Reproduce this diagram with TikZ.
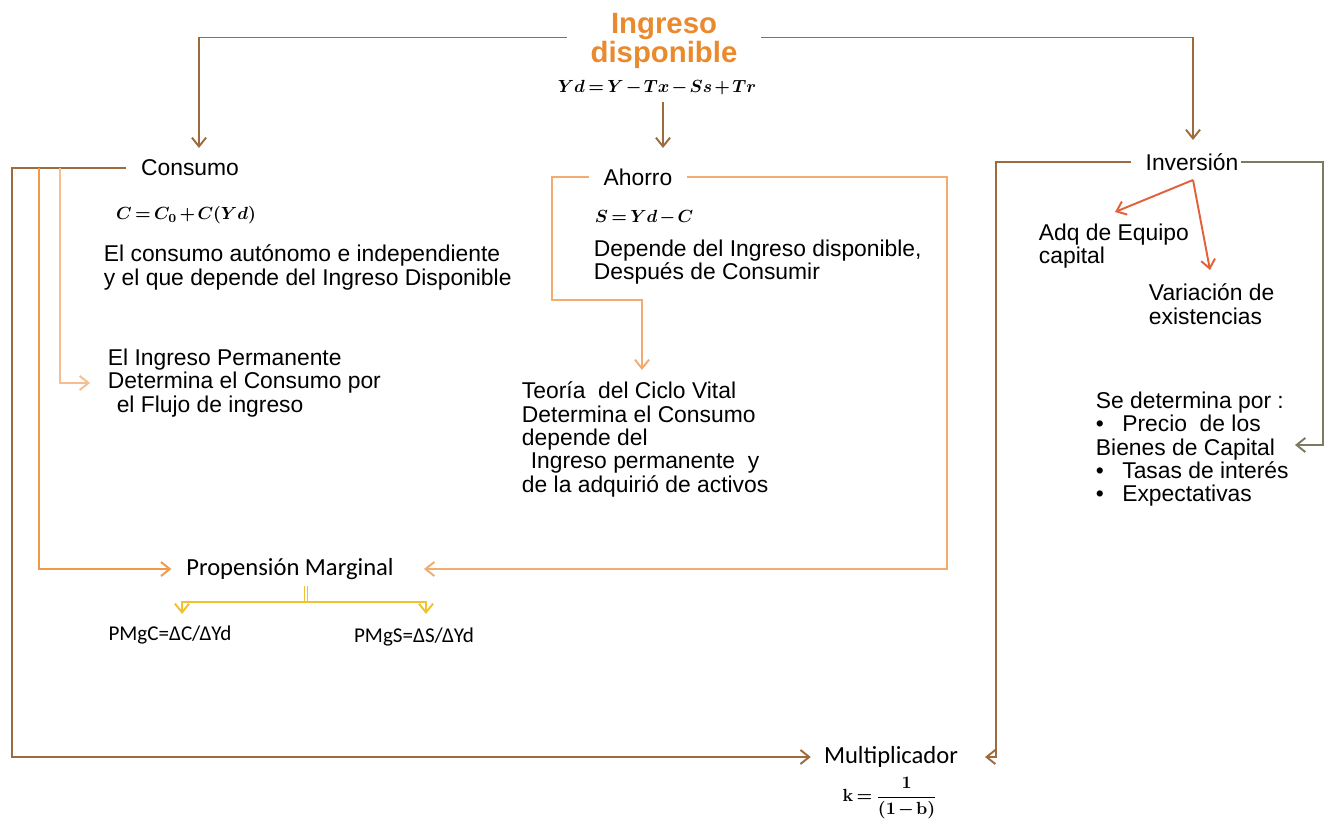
\documentclass[tikz,border=0pt]{standalone}
\usepackage[no-math]{fontspec}
\setmainfont{Liberation Sans}
\newfontfamily\calibfont{Carlito}
\usepackage{amsmath}
\usepackage{bm}
\usetikzlibrary{positioning, arrows.meta, calc}

\definecolor{titleor}{HTML}{E98A2E}
\definecolor{lnbrown}{HTML}{9E6B3E}
\definecolor{lnorange}{HTML}{EF9A4A}
\definecolor{lnlight}{HTML}{F6BE90}
\definecolor{lnahorro}{HTML}{F2AC70}
\definecolor{lnolive}{HTML}{7E7A62}
\definecolor{lnred}{HTML}{E2603A}
\definecolor{lnyellow}{HTML}{F2C22E}

% tighter spacing for the formulas
\newcommand{\tightmath}{\thickmuskip=3mu\medmuskip=2mu}

\begin{document}
\begin{tikzpicture}[x=0.02cm, y=-0.02cm, line width=1.1pt,
  arr/.style={-{Straight Barb[length=5pt,width=8pt]}},
  brownln/.style={draw=lnbrown},
  orangeln/.style={draw=lnorange},
  lightln/.style={draw=lnlight},
  ahorroln/.style={draw=lnahorro},
  oliveln/.style={draw=lnolive},
  redln/.style={draw=lnred},
  yellowln/.style={draw=lnyellow},
  head/.style={font=\fontsize{13}{15}\selectfont, inner xsep=8pt},
  txt/.style={font=\fontsize{13}{13.3}\selectfont, align=left, anchor=north west, inner sep=0pt},
  calib/.style={font=\calibfont\fontsize{14}{16}\selectfont},
  formula/.style={font=\fontsize{9.6}{12}\selectfont\boldmath\tightmath}]

\fill[white] (0,0) rectangle (1328,820);
\useasboundingbox (0,0) rectangle (1328,820);

% --- Ingreso disponible ---
\node[font=\bfseries\fontsize{16.7}{16.8}\selectfont, text=titleor, align=center, inner xsep=13pt] (ingreso) at (664,41) {Ingreso\\disponible};
\node[formula] (ydf) at (657,88) {$Yd = Y - Tx - Ss + Tr$};

% --- Consumo ---
\node[head] (consumo) at (190,168) {Consumo};
\node[formula] (cf) at (186,215) {$C = C_0 + C(Yd)$};
\node[txt] (ctxt) at (103,244) {El consumo autónomo e independiente\\y el que depende del Ingreso Disponible};
\node[txt] (perm) at (107,348) {El Ingreso Permanente\\Determina el Consumo por\\\hspace*{5pt}el Flujo de ingreso};

% --- Ahorro ---
\node[head] (ahorro) at (638,177) {Ahorro};
\node[formula] (sf) at (644,218) {$S = Yd - C$};
\node[txt] (atxt) at (593,239) {Depende del Ingreso disponible,\\Después de Consumir};
\node[txt] (ciclo) at (521,381) {Teoría\ \ del Ciclo Vital\\Determina el Consumo\\depende del\\\hspace*{5pt}Ingreso permanente\ \ y\\de la adquirió de activos};

% --- Inversion ---
\node[head] (inversion) at (1192,162) {Inversión};
\node[txt] (adq) at (1038,223) {Adq de Equipo\\capital};
\node[txt] (variacion) at (1148,283) {Variación de\\existencias};
\node[txt] (sedet) at (1095,391) {Se determina por :\\\makebox[15pt][l]{•}Precio\ \ de los\\Bienes de Capital\\\makebox[15pt][l]{•}Tasas de interés\\\makebox[15pt][l]{•}Expectativas};

% --- Propension y multiplicador ---
\node[calib, inner xsep=8pt, inner ysep=3pt] (propension) at (290,569) {Propensión Marginal};
\node[calib, font=\calibfont\fontsize{12}{14}\selectfont] (pmgc) at (170,635) {PMgC=ΔC/ΔYd};
\node[calib, font=\calibfont\fontsize{12}{14}\selectfont] (pmgs) at (414,637) {PMgS=ΔS/ΔYd};
\node[calib, inner xsep=7pt] (multi) at (891,757) {Multiplicador};
\node[font=\fontsize{10}{12}\selectfont\boldmath\tightmath] (kf) at (890,798) {$\mathbf{k}=\dfrac{\mathbf{1}}{\mathbf{(1-b)}}$};

% connector ends
\coordinate (cin) at (199,148);
\coordinate (iin) at (1193,140);
\coordinate (ain) at (663,148);
\coordinate (cj1) at (39,168);
\coordinate (cj2) at (60,168);
\coordinate (cyc) at (642,370);
\coordinate (pr) at (424,569);
\coordinate (mr) at (985,757);
\coordinate (ir) at (1193,180);
\coordinate (adqtip) at (1115,212);
\coordinate (vartip) at (1210,270);
\coordinate (sr) at (1295,445);
\coordinate (py) at (306,602);
\coordinate (yc) at (182,614);
\coordinate (ys) at (426,614);

% top branches
\draw[brownln, arr] ([yshift=2pt]ingreso.west) -| (cin);
\draw[brownln, arr] ([yshift=2pt]ingreso.east) -| (iin);
\draw[brownln, arr] (ydf.south -| ain) -- (ain);

% consumo lines
\draw[brownln, arr] (consumo.west) -| (12,757) -- (multi.west);
\draw[orangeln, arr] (cj1) |- (propension.west);
\draw[lightln, arr] (cj2) |- ($(perm.west)+(-17,0)$);

% ahorro lines
\draw[ahorroln, arr] (ahorro.west) -| (552,300) -| (cyc);
\draw[ahorroln, arr] (ahorro.east) -| (947,569) -- (pr);

% inversion lines
\draw[brownln, arr] (inversion.west) -| (996,757) -- (mr);
\draw[oliveln, arr] ($(inversion.east)+(-12,0)$) -| (1323,445) -- (sr);
\draw[redln, arr] (ir) -- (adqtip);
\draw[redln, arr] (ir) -- (vartip);

% propension split
\draw[yellowln, double=white, double distance=1.2pt, line width=0.6pt] (propension.south -| py) -- (py);
\draw[yellowln, arr] (py) -| (yc);
\draw[yellowln, arr] (py) -| (ys);
\end{tikzpicture}
\end{document}
